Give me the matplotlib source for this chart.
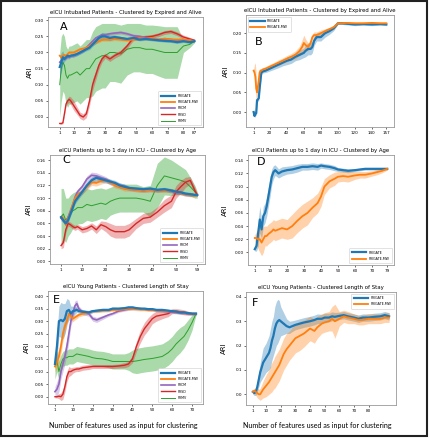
import matplotlib
matplotlib.use("Agg")
import matplotlib.pyplot as plt
import numpy as np
from matplotlib.patches import Rectangle

# ---- panel A: eICU intubated, expired vs alive (87 features)
a_x = [1, 2, 3, 4, 5, 6, 7, 8, 10, 12, 14, 16, 18, 20, 22, 24, 26, 28, 30, 33, 36, 40, 44, 48, 52, 56, 60, 64, 68, 72, 76, 80, 84, 87]
a_frigate = [0.155, 0.17, 0.185, 0.18, 0.185, 0.19, 0.188, 0.19, 0.192, 0.195, 0.2, 0.205, 0.21, 0.215, 0.225, 0.235, 0.245, 0.25, 0.25, 0.245, 0.248, 0.245, 0.242, 0.245, 0.24, 0.242, 0.24, 0.238, 0.236, 0.235, 0.232, 0.235, 0.232, 0.235]
a_frigate_sd = [0.03, 0.03, 0.02, 0.008, 0.005, 0.005, 0.005, 0.005, 0.005, 0.005, 0.005, 0.005, 0.005, 0.006, 0.006, 0.008, 0.01, 0.012, 0.01, 0.008, 0.006, 0.005, 0.004, 0.004, 0.004, 0.004, 0.004, 0.004, 0.004, 0.004, 0.004, 0.004, 0.004, 0.003]
a_frigate_mw = [0.19, 0.185, 0.19, 0.192, 0.19, 0.195, 0.2, 0.2, 0.2, 0.205, 0.21, 0.212, 0.215, 0.22, 0.228, 0.232, 0.235, 0.24, 0.24, 0.24, 0.242, 0.24, 0.238, 0.24, 0.245, 0.242, 0.245, 0.24, 0.243, 0.24, 0.24, 0.24, 0.238, 0.235]
a_frigate_mw_sd = [0.005, 0.005, 0.005, 0.005, 0.005, 0.005, 0.005, 0.005, 0.005, 0.005, 0.005, 0.005, 0.005, 0.005, 0.005, 0.005, 0.005, 0.005, 0.005, 0.005, 0.005, 0.004, 0.004, 0.004, 0.004, 0.004, 0.004, 0.004, 0.004, 0.004, 0.004, 0.004, 0.004, 0.003]
a_frcm = [0.17, 0.175, 0.18, 0.18, 0.182, 0.185, 0.185, 0.19, 0.19, 0.195, 0.2, 0.205, 0.215, 0.225, 0.235, 0.245, 0.25, 0.255, 0.255, 0.258, 0.26, 0.262, 0.258, 0.252, 0.25, 0.245, 0.242, 0.24, 0.242, 0.24, 0.238, 0.24, 0.238, 0.235]
a_frcm_sd = [0.005, 0.005, 0.005, 0.005, 0.005, 0.005, 0.005, 0.005, 0.005, 0.005, 0.005, 0.005, 0.005, 0.005, 0.005, 0.005, 0.005, 0.005, 0.005, 0.005, 0.005, 0.005, 0.005, 0.005, 0.005, 0.005, 0.005, 0.005, 0.005, 0.005, 0.005, 0.005, 0.004, 0.003]
a_frsd = [-0.02, -0.02, -0.018, 0.01, 0.04, 0.05, 0.055, 0.05, 0.035, 0.02, 0.005, 0.0, 0.01, 0.05, 0.1, 0.13, 0.16, 0.18, 0.19, 0.18, 0.19, 0.2, 0.22, 0.245, 0.245, 0.248, 0.25, 0.255, 0.262, 0.265, 0.258, 0.248, 0.242, 0.238]
a_frsd_sd = [0.003, 0.003, 0.003, 0.005, 0.005, 0.008, 0.01, 0.012, 0.015, 0.012, 0.01, 0.01, 0.012, 0.015, 0.018, 0.015, 0.012, 0.01, 0.008, 0.008, 0.008, 0.008, 0.008, 0.008, 0.006, 0.006, 0.006, 0.006, 0.006, 0.006, 0.006, 0.006, 0.005, 0.003]
a_frmv = [0.1, 0.15, 0.17, 0.16, 0.13, 0.12, 0.13, 0.13, 0.135, 0.14, 0.13, 0.14, 0.15, 0.15, 0.165, 0.18, 0.185, 0.19, 0.19, 0.2, 0.2, 0.195, 0.21, 0.215, 0.215, 0.21, 0.21, 0.205, 0.2, 0.2, 0.2, 0.22, 0.225, 0.235]
a_frmv_sd = [0.1, 0.1, 0.09, 0.09, 0.09, 0.09, 0.09, 0.09, 0.09, 0.09, 0.09, 0.09, 0.09, 0.09, 0.1, 0.1, 0.1, 0.1, 0.1, 0.09, 0.09, 0.09, 0.08, 0.075, 0.075, 0.075, 0.075, 0.078, 0.08, 0.08, 0.08, 0.02, 0.01, 0.005]

# ---- panel B: same cohort, FRIGATE vs FRIGATE-MW (157 features)
b_x = [1, 2, 3, 4, 5, 6, 7, 8, 9, 10, 12, 15, 20, 25, 30, 35, 40, 45, 50, 55, 58, 60, 62, 65, 68, 70, 72, 75, 80, 85, 90, 95, 100, 105, 110, 120, 130, 140, 150, 157]
b_frigate = [0.0, -0.01, -0.005, -0.003, 0.03, 0.032, 0.035, 0.06, 0.08, 0.1, 0.103, 0.105, 0.11, 0.115, 0.12, 0.125, 0.13, 0.133, 0.14, 0.145, 0.148, 0.15, 0.155, 0.16, 0.16, 0.165, 0.18, 0.19, 0.19, 0.2, 0.205, 0.212, 0.225, 0.225, 0.224, 0.222, 0.223, 0.222, 0.223, 0.222]
b_frigate_sd = [0.005, 0.005, 0.005, 0.005, 0.005, 0.005, 0.005, 0.01, 0.01, 0.005, 0.004, 0.005, 0.006, 0.007, 0.008, 0.008, 0.01, 0.01, 0.01, 0.012, 0.012, 0.012, 0.015, 0.015, 0.015, 0.015, 0.012, 0.01, 0.01, 0.01, 0.008, 0.006, 0.003, 0.003, 0.003, 0.003, 0.003, 0.003, 0.003, 0.003]
b_frigate_mw = [0.105, 0.1, 0.09, 0.06, 0.05, 0.065, 0.08, 0.1, 0.105, 0.105, 0.108, 0.11, 0.115, 0.12, 0.125, 0.13, 0.135, 0.14, 0.145, 0.155, 0.165, 0.175, 0.17, 0.165, 0.175, 0.19, 0.195, 0.195, 0.2, 0.205, 0.21, 0.215, 0.225, 0.225, 0.226, 0.225, 0.225, 0.226, 0.225, 0.225]
b_frigate_mw_sd = [0.005, 0.02, 0.035, 0.03, 0.01, 0.01, 0.01, 0.008, 0.005, 0.005, 0.005, 0.005, 0.006, 0.006, 0.007, 0.007, 0.008, 0.008, 0.01, 0.012, 0.018, 0.02, 0.015, 0.01, 0.01, 0.008, 0.008, 0.008, 0.008, 0.006, 0.005, 0.005, 0.003, 0.003, 0.003, 0.003, 0.003, 0.003, 0.003, 0.003]

# ---- panel C: up to 1 day in ICU, clustered by age (59 features)
c_x = [1, 2, 3, 4, 5, 6, 7, 8, 10, 12, 14, 16, 18, 20, 22, 24, 26, 28, 30, 33, 36, 39, 42, 45, 48, 50, 52, 54, 56, 58, 59]
c_frigate = [0.07, 0.065, 0.06, 0.065, 0.075, 0.085, 0.095, 0.1, 0.11, 0.12, 0.128, 0.132, 0.13, 0.128, 0.126, 0.124, 0.12, 0.118, 0.116, 0.115, 0.114, 0.115, 0.113, 0.114, 0.112, 0.11, 0.109, 0.107, 0.106, 0.105, 0.105]
c_frigate_mw = [0.07, 0.068, 0.058, 0.068, 0.078, 0.09, 0.1, 0.105, 0.11, 0.118, 0.125, 0.124, 0.127, 0.128, 0.125, 0.12, 0.118, 0.115, 0.114, 0.113, 0.112, 0.113, 0.112, 0.112, 0.112, 0.11, 0.108, 0.106, 0.105, 0.104, 0.105]
c_frcm = [0.068, 0.065, 0.06, 0.07, 0.08, 0.09, 0.102, 0.11, 0.118, 0.13, 0.136, 0.135, 0.132, 0.13, 0.125, 0.122, 0.12, 0.118, 0.115, 0.113, 0.112, 0.113, 0.112, 0.113, 0.111, 0.109, 0.108, 0.106, 0.106, 0.105, 0.105]
c_narrow_sd = [0.004, 0.004, 0.004, 0.004, 0.004, 0.004, 0.004, 0.004, 0.004, 0.005, 0.005, 0.005, 0.005, 0.004, 0.004, 0.004, 0.004, 0.004, 0.003, 0.003, 0.003, 0.003, 0.003, 0.003, 0.003, 0.003, 0.003, 0.003, 0.003, 0.002, 0.002]
c_frsd = [0.025, 0.03, 0.05, 0.06, 0.058, 0.055, 0.053, 0.055, 0.05, 0.052, 0.056, 0.05, 0.058, 0.055, 0.05, 0.047, 0.047, 0.047, 0.05, 0.06, 0.068, 0.07, 0.078, 0.088, 0.095, 0.11, 0.118, 0.125, 0.128, 0.112, 0.105]
c_frsd_sd = [0.005, 0.008, 0.005, 0.004, 0.004, 0.004, 0.004, 0.004, 0.005, 0.005, 0.005, 0.006, 0.006, 0.008, 0.01, 0.01, 0.01, 0.01, 0.01, 0.008, 0.008, 0.008, 0.008, 0.01, 0.01, 0.01, 0.01, 0.008, 0.006, 0.005, 0.003]
c_frmv = [0.07, 0.075, 0.065, 0.07, 0.075, 0.08, 0.082, 0.085, 0.085, 0.09, 0.088, 0.09, 0.092, 0.09, 0.095, 0.098, 0.1, 0.1, 0.1, 0.1, 0.098, 0.095, 0.12, 0.135, 0.132, 0.13, 0.128, 0.125, 0.118, 0.11, 0.105]
c_frmv_sd = [0.045, 0.04, 0.035, 0.03, 0.03, 0.028, 0.028, 0.026, 0.025, 0.025, 0.025, 0.025, 0.024, 0.024, 0.022, 0.022, 0.022, 0.022, 0.022, 0.022, 0.02, 0.025, 0.035, 0.03, 0.028, 0.025, 0.022, 0.02, 0.015, 0.01, 0.005]

# ---- panel D: same cohort, FRIGATE vs FRIGATE-MW (79 features)
d_x = [1, 2, 3, 4, 5, 6, 7, 8, 9, 10, 11, 12, 13, 15, 17, 20, 23, 26, 29, 32, 35, 38, 40, 42, 45, 48, 50, 53, 56, 60, 63, 66, 70, 73, 76, 79]
d_frigate = [0.005, 0.01, 0.03, 0.05, 0.035, 0.055, 0.06, 0.07, 0.085, 0.1, 0.115, 0.122, 0.125, 0.12, 0.123, 0.125, 0.126, 0.128, 0.13, 0.13, 0.131, 0.13, 0.132, 0.131, 0.13, 0.128, 0.126, 0.125, 0.124, 0.125, 0.126, 0.127, 0.127, 0.127, 0.127, 0.127]
d_frigate_sd = [0.003, 0.008, 0.02, 0.02, 0.015, 0.015, 0.015, 0.015, 0.015, 0.015, 0.012, 0.01, 0.008, 0.007, 0.007, 0.006, 0.006, 0.006, 0.005, 0.005, 0.005, 0.005, 0.004, 0.004, 0.004, 0.004, 0.003, 0.003, 0.003, 0.002, 0.002, 0.002, 0.002, 0.002, 0.002, 0.002]
d_frigate_mw = [0.022, 0.022, 0.02, 0.02, 0.015, 0.02, 0.025, 0.025, 0.028, 0.03, 0.032, 0.035, 0.033, 0.035, 0.037, 0.035, 0.04, 0.048, 0.055, 0.06, 0.068, 0.075, 0.085, 0.1, 0.108, 0.112, 0.115, 0.116, 0.115, 0.117, 0.118, 0.118, 0.12, 0.122, 0.124, 0.127]
d_frigate_mw_sd = [0.005, 0.01, 0.015, 0.02, 0.02, 0.02, 0.015, 0.015, 0.015, 0.015, 0.015, 0.015, 0.015, 0.015, 0.015, 0.015, 0.018, 0.018, 0.018, 0.018, 0.015, 0.015, 0.015, 0.012, 0.01, 0.01, 0.008, 0.008, 0.008, 0.006, 0.005, 0.005, 0.004, 0.004, 0.003, 0.002]

# ---- panel E: young patients, length of stay (72 features)
e_x = [1, 2, 3, 4, 5, 6, 7, 8, 9, 10, 11, 12, 13, 15, 18, 20, 22, 25, 28, 30, 33, 36, 38, 40, 42, 44, 46, 48, 50, 52, 55, 58, 60, 62, 64, 66, 68, 70, 72]
e_frigate = [0.13, 0.2, 0.3, 0.305, 0.3, 0.31, 0.34, 0.345, 0.33, 0.34, 0.342, 0.345, 0.34, 0.338, 0.335, 0.34, 0.342, 0.345, 0.345, 0.35, 0.35, 0.352, 0.355, 0.355, 0.352, 0.35, 0.35, 0.348, 0.348, 0.345, 0.345, 0.342, 0.34, 0.338, 0.335, 0.335, 0.332, 0.33, 0.33]
e_frigate_sd = [0.02, 0.05, 0.06, 0.07, 0.07, 0.06, 0.05, 0.04, 0.03, 0.02, 0.015, 0.01, 0.008, 0.008, 0.008, 0.006, 0.006, 0.006, 0.006, 0.006, 0.005, 0.005, 0.005, 0.005, 0.005, 0.005, 0.005, 0.005, 0.005, 0.005, 0.005, 0.005, 0.005, 0.005, 0.005, 0.005, 0.005, 0.005, 0.005]
e_frigate_mw = [0.12, 0.14, 0.16, 0.2, 0.25, 0.28, 0.3, 0.33, 0.32, 0.31, 0.315, 0.32, 0.325, 0.33, 0.335, 0.34, 0.34, 0.342, 0.343, 0.345, 0.345, 0.348, 0.35, 0.35, 0.348, 0.347, 0.347, 0.345, 0.345, 0.343, 0.342, 0.34, 0.34, 0.338, 0.336, 0.335, 0.332, 0.33, 0.33]
e_frigate_mw_sd = [0.02, 0.03, 0.03, 0.03, 0.03, 0.03, 0.02, 0.015, 0.012, 0.012, 0.01, 0.01, 0.008, 0.008, 0.006, 0.006, 0.006, 0.006, 0.006, 0.006, 0.006, 0.006, 0.006, 0.006, 0.006, 0.006, 0.006, 0.006, 0.006, 0.006, 0.006, 0.006, 0.006, 0.006, 0.006, 0.006, 0.006, 0.005, 0.005]
e_frcm = [0.02, 0.03, 0.05, 0.1, 0.13, 0.16, 0.2, 0.25, 0.3, 0.33, 0.36, 0.37, 0.35, 0.335, 0.33, 0.31, 0.305, 0.315, 0.325, 0.33, 0.34, 0.345, 0.348, 0.35, 0.35, 0.35, 0.348, 0.346, 0.345, 0.343, 0.34, 0.338, 0.336, 0.335, 0.333, 0.332, 0.33, 0.33, 0.33]
e_frcm_sd = [0.02, 0.03, 0.03, 0.03, 0.03, 0.03, 0.03, 0.03, 0.02, 0.02, 0.02, 0.015, 0.01, 0.01, 0.01, 0.01, 0.01, 0.008, 0.006, 0.005, 0.005, 0.005, 0.005, 0.005, 0.005, 0.005, 0.005, 0.005, 0.005, 0.005, 0.005, 0.005, 0.005, 0.005, 0.005, 0.005, 0.005, 0.005, 0.005]
e_frsd = [0.0, 0.0, 0.002, 0.0, 0.01, 0.04, 0.08, 0.1, 0.1, 0.105, 0.108, 0.11, 0.11, 0.115, 0.118, 0.12, 0.12, 0.12, 0.12, 0.12, 0.122, 0.125, 0.13, 0.15, 0.2, 0.24, 0.27, 0.29, 0.31, 0.32, 0.325, 0.33, 0.34, 0.34, 0.338, 0.335, 0.332, 0.33, 0.33]
e_frsd_sd = [0.005, 0.005, 0.01, 0.015, 0.02, 0.02, 0.02, 0.02, 0.015, 0.012, 0.01, 0.01, 0.01, 0.01, 0.01, 0.008, 0.008, 0.008, 0.008, 0.008, 0.008, 0.01, 0.01, 0.015, 0.02, 0.025, 0.025, 0.025, 0.02, 0.02, 0.015, 0.012, 0.01, 0.01, 0.01, 0.01, 0.008, 0.005, 0.005]
e_frmv = [0.12, 0.14, 0.1, 0.13, 0.15, 0.155, 0.155, 0.16, 0.16, 0.16, 0.165, 0.17, 0.168, 0.165, 0.16, 0.155, 0.152, 0.15, 0.145, 0.14, 0.14, 0.14, 0.14, 0.14, 0.142, 0.145, 0.148, 0.15, 0.152, 0.155, 0.16, 0.175, 0.19, 0.21, 0.225, 0.24, 0.265, 0.295, 0.33]
e_frmv_sd = [0.05, 0.04, 0.04, 0.035, 0.03, 0.03, 0.03, 0.03, 0.03, 0.03, 0.03, 0.03, 0.03, 0.03, 0.03, 0.03, 0.03, 0.03, 0.03, 0.03, 0.03, 0.03, 0.035, 0.045, 0.05, 0.05, 0.05, 0.05, 0.05, 0.05, 0.05, 0.05, 0.05, 0.05, 0.05, 0.045, 0.04, 0.03, 0.005]

# ---- panel F: same cohort, FRIGATE vs FRIGATE-MW
f_x = [1, 2, 3, 4, 5, 6, 7, 8, 10, 12, 13, 14, 15, 16, 17, 18, 19, 20, 22, 24, 26, 28, 30, 33, 36, 40, 43, 45, 48, 50, 53, 55, 57, 60, 63, 66, 70, 73, 76, 80, 84, 88, 91, 94]
f_frigate = [0.01, 0.005, 0.01, 0.03, 0.06, 0.09, 0.11, 0.13, 0.15, 0.17, 0.19, 0.22, 0.24, 0.27, 0.29, 0.3, 0.305, 0.3, 0.29, 0.28, 0.275, 0.28, 0.285, 0.29, 0.295, 0.3, 0.305, 0.31, 0.31, 0.315, 0.315, 0.32, 0.318, 0.322, 0.325, 0.32, 0.315, 0.31, 0.315, 0.315, 0.318, 0.32, 0.325, 0.32]
f_frigate_sd = [0.01, 0.01, 0.015, 0.02, 0.03, 0.04, 0.05, 0.06, 0.06, 0.07, 0.08, 0.08, 0.08, 0.09, 0.09, 0.09, 0.08, 0.06, 0.045, 0.03, 0.025, 0.022, 0.02, 0.02, 0.02, 0.02, 0.02, 0.02, 0.018, 0.018, 0.018, 0.018, 0.018, 0.015, 0.015, 0.015, 0.015, 0.015, 0.015, 0.015, 0.015, 0.015, 0.015, 0.015]
f_frigate_mw = [0.01, 0.015, 0.01, 0.005, 0.0, 0.0, 0.01, 0.02, 0.035, 0.05, 0.06, 0.07, 0.08, 0.09, 0.1, 0.11, 0.12, 0.135, 0.165, 0.185, 0.2, 0.215, 0.23, 0.24, 0.25, 0.27, 0.26, 0.275, 0.29, 0.295, 0.3, 0.31, 0.3, 0.31, 0.32, 0.315, 0.31, 0.305, 0.305, 0.31, 0.31, 0.31, 0.315, 0.315]
f_frigate_mw_sd = [0.01, 0.01, 0.015, 0.02, 0.02, 0.025, 0.03, 0.035, 0.045, 0.05, 0.055, 0.06, 0.06, 0.065, 0.065, 0.065, 0.065, 0.065, 0.065, 0.065, 0.06, 0.06, 0.06, 0.06, 0.055, 0.05, 0.05, 0.045, 0.04, 0.04, 0.04, 0.05, 0.07, 0.03, 0.025, 0.025, 0.02, 0.02, 0.02, 0.02, 0.02, 0.02, 0.02, 0.02]

BLUE, ORANGE, PURPLE, RED, GREEN = "#1f77b4", "#ff7f0e", "#9467bd", "#d62728", "#2ca02c"

W, H = 429, 440
fig = plt.figure(figsize=(W / 100, H / 100), dpi=100)


def make_axes(left, top, right, bottom):
    return fig.add_axes([left / W, 1 - bottom / H, (right - left) / W, (bottom - top) / H])


def band(ax, x, y, sd, color, label, lw=1.0, alpha=0.35, z=2):
    x = np.array(x)
    y = np.array(y)
    sd = np.array(sd)
    ax.fill_between(x, y - sd, y + sd, color=color, alpha=alpha, lw=0, zorder=z)
    ax.plot(x, y, color=color, lw=lw, label=label, zorder=z + 1)


def style(ax, title, letter, lx, ly, xticks, xlim, yticks, yfmt, ylim, ylab_x):
    ax.set_title(title, fontsize=3.9, pad=2)
    ax.text(lx, ly, letter, transform=ax.transAxes, fontsize=8, va="center", ha="left")
    ax.set_xticks(xticks)
    ax.set_xlim(*xlim)
    ax.set_yticks(yticks)
    ax.set_yticklabels([yfmt.format(v) for v in yticks])
    ax.set_ylim(*ylim)
    ax.tick_params(labelsize=3, length=1.5, width=0.4, pad=1.5)
    ax.set_ylabel("ARI", fontsize=5)
    ax.yaxis.set_label_coords(ylab_x, 0.5)
    for s in ax.spines.values():
        s.set_color("#999999")
        s.set_linewidth(0.6)


def legend(ax, loc, reverse=False):
    h, l = ax.get_legend_handles_labels()
    if reverse:
        h, l = h[::-1], l[::-1]
    lg = ax.legend(h, l, loc=loc, fontsize=2.3, handlelength=4.5, borderpad=0.8,
                   labelspacing=0.7, framealpha=1, edgecolor="#cccccc")
    lg.get_frame().set_linewidth(0.4)


# A
ax = make_axes(48, 17, 203, 127)
band(ax, a_x, a_frmv, a_frmv_sd, GREEN, "FRMV", lw=0.7, alpha=0.4, z=1)
band(ax, a_x, a_frsd, a_frsd_sd, RED, "FRSD", lw=1.0)
band(ax, a_x, a_frcm, a_frcm_sd, PURPLE, "FRCM", lw=1.2)
band(ax, a_x, a_frigate_mw, a_frigate_mw_sd, ORANGE, "FRIGATE-MW", lw=1.3)
band(ax, a_x, a_frigate, a_frigate_sd, BLUE, "FRIGATE", lw=1.6)
legend(ax, "lower right", reverse=True)
style(ax, "eICU Intubated Patients - Clustered by Expired and Alive", "A", 0.08, 0.91,
      [1, 10, 20, 30, 40, 50, 60, 70, 80, 87], (-6.5, 92.5),
      [0.0, 0.05, 0.10, 0.15, 0.20, 0.25, 0.30], "{:.2f}", (-0.031, 0.31), -0.097)

# B
ax = make_axes(246, 15, 394, 127)
band(ax, b_x, b_frigate, b_frigate_sd, BLUE, "FRIGATE", lw=1.6)
band(ax, b_x, b_frigate_mw, b_frigate_mw_sd, ORANGE, "FRIGATE-MW", lw=1.3)
legend(ax, "upper left")
style(ax, "eICU Intubated Patients - Clustered by Expired and Alive", "B", 0.06, 0.76,
      [1, 20, 40, 60, 80, 100, 120, 140, 157], (-8, 166),
      [0.0, 0.05, 0.10, 0.15, 0.20], "{:.2f}", (-0.038, 0.246), -0.115)

# C
ax = make_axes(50, 155, 205, 264)
band(ax, c_x, c_frmv, c_frmv_sd, GREEN, "FRMV", lw=0.7, alpha=0.4, z=1)
band(ax, c_x, c_frsd, c_frsd_sd, RED, "FRSD", lw=1.0)
band(ax, c_x, c_frcm, c_narrow_sd, PURPLE, "FRCM", lw=1.2)
band(ax, c_x, c_frigate_mw, c_narrow_sd, ORANGE, "FRIGATE-MW", lw=1.3)
band(ax, c_x, c_frigate, c_narrow_sd, BLUE, "FRIGATE", lw=1.6)
legend(ax, "lower right", reverse=True)
style(ax, "eICU Patients up to 1 day in ICU - Clustered by Age", "C", 0.08, 0.955,
      [1, 10, 20, 30, 40, 50, 59], (-3.7, 62.3),
      [0.0, 0.02, 0.04, 0.06, 0.08, 0.10, 0.12, 0.14, 0.16], "{:.2f}", (-0.004, 0.168), -0.115)

# D
ax = make_axes(248, 155, 394, 265)
band(ax, d_x, d_frigate, d_frigate_sd, BLUE, "FRIGATE", lw=1.6)
band(ax, d_x, d_frigate_mw, d_frigate_mw_sd, ORANGE, "FRIGATE-MW", lw=1.3)
legend(ax, "lower right")
style(ax, "eICU Patients up to 1 day in ICU - Clustered by Age", "D", 0.06, 0.94,
      [1, 10, 20, 30, 40, 50, 60, 70, 79], (-3, 83),
      [0.0, 0.02, 0.04, 0.06, 0.08, 0.10, 0.12, 0.14], "{:.2f}", (-0.019, 0.148), -0.14)

# E
ax = make_axes(48, 291, 203, 404)
band(ax, e_x, e_frmv, e_frmv_sd, GREEN, "FRMV", lw=0.7, alpha=0.4, z=1)
band(ax, e_x, e_frsd, e_frsd_sd, RED, "FRSD", lw=1.0)
band(ax, e_x, e_frcm, e_frcm_sd, PURPLE, "FRCM", lw=1.2)
band(ax, e_x, e_frigate_mw, e_frigate_mw_sd, ORANGE, "FRIGATE-MW", lw=1.3)
band(ax, e_x, e_frigate, e_frigate_sd, BLUE, "FRIGATE", lw=1.6)
legend(ax, "lower right", reverse=True)
style(ax, "eICU Young Patients - Clustered Length of Stay", "E", 0.03, 0.92,
      [1, 10, 20, 30, 40, 50, 60, 70], (-2.5, 75.5),
      [0.0, 0.05, 0.10, 0.15, 0.20, 0.25, 0.30, 0.35, 0.40], "{:.2f}", (-0.029, 0.42), -0.115)

# F
ax = make_axes(246, 292, 396, 405)
band(ax, f_x, f_frigate, f_frigate_sd, BLUE, "FRIGATE", lw=1.6)
band(ax, f_x, f_frigate_mw, f_frigate_mw_sd, ORANGE, "FRIGATE-MW", lw=1.3)
legend(ax, "upper right")
style(ax, "eICU Young Patients - Clustered Length of Stay", "F", 0.04, 0.9,
      [1, 10, 20, 30, 40, 50, 60, 70, 80], (-3.7, 98.7),
      [0.0, 0.1, 0.2, 0.3, 0.4], "{:.1f}", (-0.044, 0.42), -0.13)

# shared x labels under the bottom row
for cx in (123.5 / W, 317 / W):
    fig.text(cx, 1 - 425 / H, "Number of features used as input for clustering",
             fontsize=5.1, family="Lato", ha="center", va="center")

# outer frame
fig.patches.append(Rectangle((0.003, 0.008), 0.992, 0.989, transform=fig.transFigure,
                             fill=False, edgecolor="#222222", lw=1.5))

fig.savefig("out.png", dpi=100)
